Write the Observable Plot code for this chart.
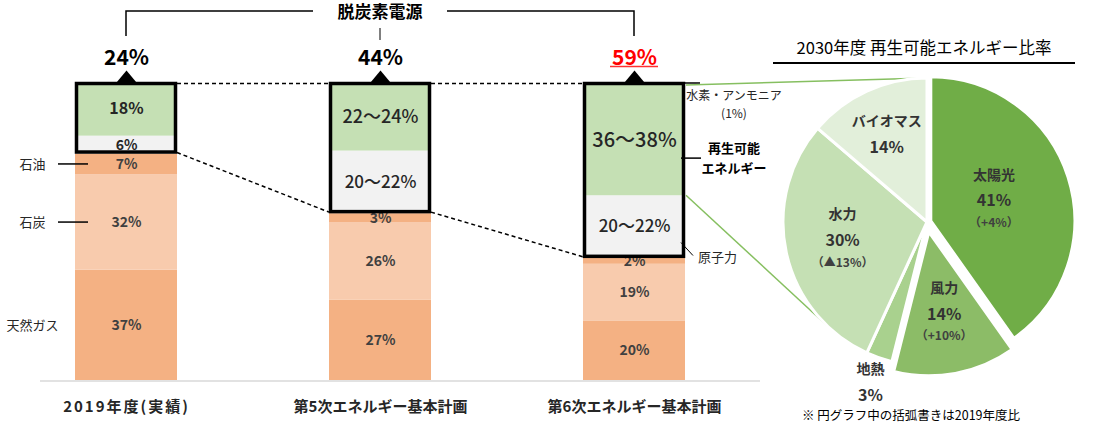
<!DOCTYPE html>
<html><head><meta charset="utf-8">
<script src="https://cdn.jsdelivr.net/npm/d3@7"></script>
<script src="https://cdn.jsdelivr.net/npm/@observablehq/plot@0.6"></script>
<style>
body{margin:0;background:#fff;}
#chart{width:1100px;height:425px;}
</style></head><body><div id="chart"></div>
<script>
// ---- data ----
const categories = ["2019年度(実績)", "第5次エネルギー基本計画", "第6次エネルギー基本計画"];
const sources = ["天然ガス", "石炭", "石油", "原子力", "再生可能エネルギー", "水素・アンモニア"];
const gasShare = [37, 27, 20];
const coalShare = [32, 26, 19];
const oilShare = [7, 3, 2];
const nuclearShare = [6, 21, 21];
const renewableShare = [18, 23, 37];
const hydrogenShare = [0, 0, 1];
const gasLabels = ["37%", "27%", "20%"];
const coalLabels = ["32%", "26%", "19%"];
const oilLabels = ["7%", "3%", "2%"];
const nuclearLabels = ["6%", "20～22%", "20～22%"];
const renewableLabels = ["18%", "22～24%", "36～38%"];
const hydrogenLabels = ["", "", ""];
const decarbTotals = ["24%", "44%", "59%"];
const bracketTitle = "脱炭素電源";
const pieTitle = "2030年度 再生可能エネルギー比率";
const pieNote = "※ 円グラフ中の括弧書きは2019年度比";
const pieCategories = ["太陽光", "風力", "地熱", "水力", "バイオマス"];
const pieValues = [41, 14, 3, 30, 14];
const pieChanges = ["（+4%）", "（+10%）", "", "（▲13%）", ""];

// ---- tidy table ----
const seriesValues = [gasShare, coalShare, oilShare, nuclearShare, renewableShare, hydrogenShare];
const seriesLabels = [gasLabels, coalLabels, oilLabels, nuclearLabels, renewableLabels, hydrogenLabels];
const rows = [];
categories.forEach((cat, ci) => sources.forEach((source, sj) =>
  rows.push({cat, source, value: seriesValues[sj][ci], label: seriesLabels[sj][ci], ci, sj})));
const fossil = categories.map((c, i) => gasShare[i] + coalShare[i] + oilShare[i]);

const FONT = "'Noto Sans CJK JP', 'Noto Sans', sans-serif";
const TXT = "#262626";
const barColors = ["#f4b183", "#f8cbad", "#f4b183", "#f2f2f2", "#c5e0b4", "#fcfcfc"];
const triangle = {draw(ctx) { ctx.moveTo(0, -12); ctx.lineTo(10, 0); ctx.lineTo(-10, 0); ctx.closePath(); }};
const stackOpts = {x: "cat", y: "value", z: "source", order: sources};

const chart = Plot.plot({
  width: 1100, height: 425, margin: 0,
  style: {fontFamily: FONT, background: "#fff", overflow: "visible"},
  x: {type: "band", domain: categories, range: [0, 760], paddingInner: 0.6, paddingOuter: 0.296, axis: null},
  y: {domain: [0, 100], range: [380, 82], axis: null},
  color: {domain: sources, range: barColors},
  marks: [
    Plot.barY(rows, {...stackOpts, fill: "source"}),
    Plot.text(rows, Plot.stackY({...stackOpts, text: d => d.sj < 3 ? d.label : "", fontSize: 14, fontWeight: "bold", fill: "#404040"})),
    Plot.text(rows, Plot.stackY({...stackOpts, text: d => d.sj >= 3 && d.ci === 0 ? d.label : "", fontSize: d => d.sj === 4 ? 16 : 14, fontWeight: "bold", fill: TXT})),
    Plot.text(rows, Plot.stackY({...stackOpts, text: d => d.sj >= 3 && d.ci > 0 ? d.label : "", fontSize: d => d.sj === 4 ? (d.ci === 2 ? 20 : 18) : 17, fontWeight: 500, fill: TXT})),
    Plot.text(rows, Plot.stackY({...stackOpts, text: d => d.ci === 0 && d.sj < 3 ? d.source : "", dx: -94, fontSize: 13, fill: TXT})),
    Plot.barY(categories, {x: d => d, y1: (d, i) => fossil[i], y2: () => 100, fill: "none", stroke: "#000", strokeWidth: 3.5, inset: 1.5}),
    Plot.dot(categories, {x: d => d, y: () => 100, symbol: triangle, fill: "#000"}),
    Plot.text(categories.slice(0, 2), {x: d => d, y: () => 100, text: (d, i) => decarbTotals[i], dy: -24.5, fontSize: 21, fontWeight: "bold", fill: "#000"}),
    Plot.text(categories.slice(2), {x: d => d, y: () => 100, text: () => decarbTotals[2], dy: -24.5, fontSize: 21, fontWeight: "bold", fill: "#ff0000"}),
    Plot.text(categories, {x: d => d, y: () => 0, text: d => d, dy: 27, fontSize: 15, fontWeight: "bold", fill: TXT, letterSpacing: (d, i) => i === 0 ? 2 : 0})
  ]
});
document.getElementById("chart").appendChild(chart);

// ---- annotations using the plot's scales ----
const X = chart.scale("x"), Y = chart.scale("y");
const bw = X.bandwidth;
const L = c => X.apply(c), Rt = c => X.apply(c) + bw, C = c => X.apply(c) + bw / 2;
const yy = v => Y.apply(v);
const svg = d3.select(chart);
const back = svg.insert("g", ":first-child").attr("fill", "none");
const ann = svg.append("g");
const line = (sel, pts, stroke = "#000", w = 1.5, dash = null) =>
  sel.append("path").attr("d", d3.line()(pts)).attr("fill", "none").attr("stroke", stroke).attr("stroke-width", w).attr("stroke-dasharray", dash);
const text = (sel, x, ty, s, size, opts = {}) =>
  sel.append("text").attr("x", x).attr("y", ty).attr("dy", "0.35em").attr("font-size", size)
    .attr("font-weight", opts.weight || "normal").attr("fill", opts.fill || TXT)
    .attr("text-anchor", opts.anchor || "middle").attr("font-family", FONT).text(s);

const [c0, c1, c2] = categories;
// first category label spacing (reference font is wider there)
d3.select(chart).selectAll("text").filter(function() { return this.textContent === c0; }).attr("letter-spacing", 2);
// baseline
line(back, [[40, yy(0) + 1], [760, yy(0) + 1]], "#d9d9d9", 1.5);
// bracket
line(ann, [[C(c0), 36], [C(c0), 11], [C(c1) - 67, 11]]);
line(ann, [[C(c1) + 67, 11], [C(c2), 11], [C(c2), 36]]);
line(ann, [[C(c1), 28], [C(c1), 40]], "#000", 1);
text(ann, C(c1), 12, bracketTitle, 17, {weight: "bold", fill: "#000"});
// red underline for 59%
line(ann, [[C(c2) - 24, yy(100) - 15.5], [C(c2) + 24, yy(100) - 15.5]], "#ff3030", 1.6);
// dashed connectors
for (let i = 0; i < 2; i++) {
  const a = categories[i], b = categories[i + 1];
  line(ann, [[Rt(a), yy(100) + 1.5], [L(b), yy(100) + 1.5]], "#000", 1.5, "4,3");
  line(ann, [[Rt(a), yy(fossil[i]) - 1], [L(b), yy(fossil[i + 1]) - 1]], "#000", 1.5, "4,3");
}
// left fossil leader lines
const oilMid0 = yy(gasShare[0] + coalShare[0] + oilShare[0] / 2);
const coalMid0 = yy(gasShare[0] + coalShare[0] / 2);
line(ann, [[58, oilMid0], [88, oilMid0]], "#000", 1.5);
line(ann, [[58, coalMid0], [88, coalMid0]], "#000", 1.5);
// bar 3 annotations
const r3 = Rt(c2);
line(ann, [[r3 - 2, yy(100) + 1], [r3 + 15, yy(100) + 1]], "#000", 1.5);
text(ann, r3 + 49, yy(100) + 14, sources[5], 12, {});
text(ann, r3 + 49, yy(100) + 32, "(" + hydrogenShare[2] + "%)", 12);
const renMid = yy(fossil[2] + nuclearShare[2] + renewableShare[2] / 2);
line(ann, [[r3 - 4, renMid + 18], [r3 + 16, renMid + 18]], "#000", 1.5);
text(ann, r3 + 49, renMid + 8, "再生可能", 13, {weight: "bold", fill: "#000"});
text(ann, r3 + 49, renMid + 28, "エネルギー", 13, {weight: "bold", fill: "#000"});
const nucMid = yy(fossil[2] + nuclearShare[2] / 2);
line(ann, [[r3 - 4, nucMid + 16], [r3 + 8, nucMid + 29]], "#000", 1);
text(ann, r3 + 13, nucMid + 31, sources[3], 13, {anchor: "start"});

// ---- pie ----
const cx = 927, cy = 222, R = 144;
const pieColors = ["#70ad47", "#8cbc67", "#a9d18e", "#c5e0b4", "#e2efda"];
const explode = [4, 10, 0, 0, 0];
const labelR = [0.46, 0.58, 1.18, 0.6, 0.67];
const arcs = d3.pie().sort(null).value(d => d)(pieValues);
// green connector lines (behind pie)
const ang = 224.5 * Math.PI / 180;
line(ann, [[r3 + 1, yy(100) + 3], [cx, cy - R]], "#86bf60", 1.5);
line(ann, [[r3 + 1, yy(fossil[2] + nuclearShare[2])], [cx + R * Math.sin(ang), cy - R * Math.cos(ang)]], "#86bf60", 1.5);
const pg = svg.append("g");
const arcGen = d3.arc().innerRadius(0).outerRadius(R);
arcs.forEach((a, i) => {
  const mid = (a.startAngle + a.endAngle) / 2;
  const ox = cx + explode[i] * Math.sin(mid), oy = cy - explode[i] * Math.cos(mid);
  pg.append("path").attr("d", arcGen(a)).attr("transform", `translate(${ox},${oy})`)
    .attr("fill", pieColors[i]).attr("stroke", "#fff").attr("stroke-width", 3).attr("stroke-linejoin", "round");
});
arcs.forEach((a, i) => {
  const mid = (a.startAngle + a.endAngle) / 2;
  const rr = labelR[i] * R + explode[i];
  const lx = cx + rr * Math.sin(mid), ly = cy - rr * Math.cos(mid);
  const pct = pieValues[i] + "%";
  if (pieChanges[i]) {
    text(pg, lx, ly - 26, pieCategories[i], 14, {weight: "bold", fill: "#333"});
    text(pg, lx, ly, pct, 16, {weight: "bold", fill: "#333"});
    text(pg, lx, ly + 22, pieChanges[i], 12, {weight: "bold", fill: "#404040"});
  } else {
    text(pg, lx, ly - 13, pieCategories[i], 14, {weight: "bold", fill: "#333"});
    text(pg, lx, ly + 13, pct, 16, {weight: "bold", fill: "#333"});
  }
});
text(pg, cx - 3, 48, pieTitle, 16.5, {fill: "#000"});
line(pg, [[773, 63], [1075, 63]], "#000", 2);
text(pg, cx - 16, 416, pieNote, 12.5, {fill: "#000"});
</script></body></html>
